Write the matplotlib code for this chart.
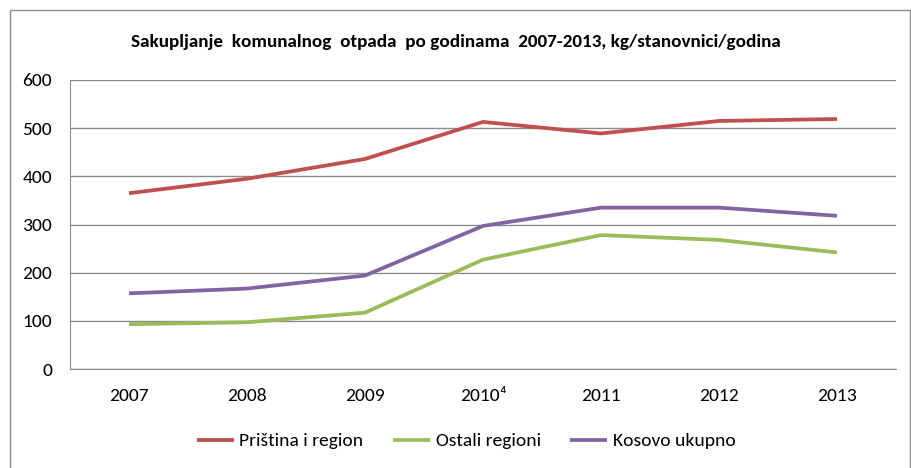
import matplotlib.pyplot as plt
from matplotlib.patches import Rectangle

# values, kg/stanovnici/godina
godine = ["2007", "2008", "2009", "2010\u2074", "2011", "2012", "2013"]
pristina = [365, 395, 436, 513, 489, 515, 519]
ostali = [93, 97, 117, 227, 278, 268, 242]
kosovo = [157, 167, 194, 297, 335, 335, 318]

plt.rcParams['font.family'] = ['Carlito', 'DejaVu Sans']

fig = plt.figure(figsize=(9.12, 4.68), dpi=100)
ax = fig.add_axes([70/912, 1 - 369/468, 826/912, 289/468])

x = range(len(godine))
ax.plot(x, pristina, color="#C0504D", lw=2.7, label="Priština i region", solid_capstyle="butt")
ax.plot(x, ostali, color="#9BBB59", lw=2.7, label="Ostali regioni", solid_capstyle="butt")
ax.plot(x, kosovo, color="#8064A2", lw=2.7, label="Kosovo ukupno", solid_capstyle="butt")

ax.set_xlim(-0.5, 6.5)
ax.set_ylim(0, 600)
ax.set_yticks(range(0, 601, 100))
ax.set_xticks(list(x))
ax.set_xticklabels(godine)
ax.yaxis.grid(True, color="#8c8c8c", lw=1)
ax.set_axisbelow(True)
for s in ["top", "right"]:
    ax.spines[s].set_visible(False)
for s in ["left", "bottom"]:
    ax.spines[s].set_color("#8c8c8c")
ax.tick_params(axis="both", length=0, labelsize=14, colors="black")
ax.tick_params(axis="y", pad=13)
ax.tick_params(axis="x", pad=14)

fig.text(0.5, 1 - 42/468, "Sakupljanje  komunalnog  otpada  po godinama  2007-2013, kg/stanovnici/godina",
         ha="center", va="center", fontsize=13.8, fontweight="bold")

ax.legend(loc="center", bbox_to_anchor=(466/912, 1 - 441/468), bbox_transform=fig.transFigure,
          ncol=3, frameon=False, fontsize=14, handlelength=1.9, handletextpad=0.3, columnspacing=1.5)

fig.patches.append(Rectangle((10/912, -0.01), 900/912, 1 - 10/468 + 0.01, transform=fig.transFigure,
                             fill=False, edgecolor="#8c8c8c", lw=1))

fig.savefig("out.png", dpi=100)
